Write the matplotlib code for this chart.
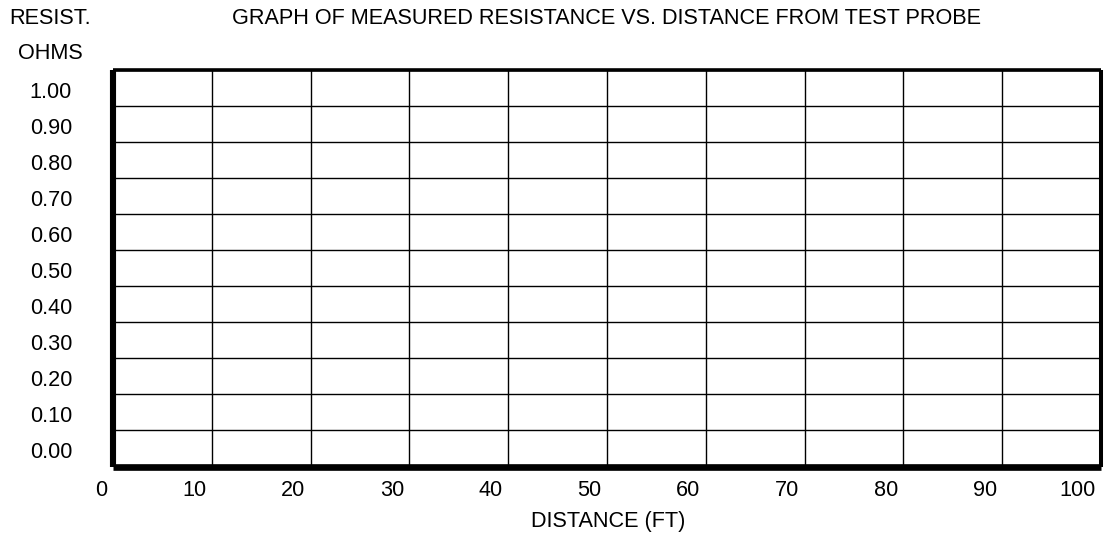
import matplotlib
matplotlib.use("Agg")
import matplotlib.pyplot as plt
import matplotlib.transforms as mtransforms
import numpy as np

plt.rcParams['font.family'] = ['Liberation Sans', 'DejaVu Sans']

title = "GRAPH OF MEASURED RESISTANCE VS. DISTANCE FROM TEST PROBE"
y_title_top = "RESIST."
y_title_unit = "OHMS"
x_label = "DISTANCE (FT)"
x_ticks = [0, 10, 20, 30, 40, 50, 60, 70, 80, 90, 100]
y_ticks = [0.00, 0.10, 0.20, 0.30, 0.40, 0.50, 0.60, 0.70, 0.80, 0.90, 1.00]
y_tick_labels = ["0.00", "0.10", "0.20", "0.30", "0.40", "0.50",
                 "0.60", "0.70", "0.80", "0.90", "1.00"]

FS = 15.6
W, H = 1107, 537
fig = plt.figure(figsize=(W / 100, H / 100), dpi=100)
ax = fig.add_axes([113 / W, (H - 466.5) / H, 988 / W, 396.5 / H])

ystep = y_ticks[1] - y_ticks[0]
ax.set_xlim(x_ticks[0], x_ticks[-1])
ax.set_ylim(y_ticks[0] - ystep / 2, y_ticks[-1] + ystep / 2)

# grid lines
for xv in x_ticks[1:-1]:
    ax.axvline(xv, color='black', lw=1.0, zorder=1)
for yv in y_ticks:
    ax.axhline(yv + ystep / 2, color='black', lw=1.0, zorder=1)

# spines
ax.spines['left'].set_linewidth(4.4)
ax.spines['bottom'].set_linewidth(4.8)
ax.spines['top'].set_linewidth(2.6)
ax.spines['right'].set_linewidth(2.9)
for s in ax.spines.values():
    s.set_color('black')
    s.set_zorder(3)
    s.set_capstyle('butt')

# x ticks: labels right-aligned just left of grid line
ax.set_xticks(x_ticks)
ax.set_xticklabels([str(v) for v in x_ticks], fontsize=FS)
ax.tick_params(axis='x', length=0, pad=10)
off = mtransforms.ScaledTranslation(-5.5 / 100, 0, fig.dpi_scale_trans)
for lab in ax.get_xticklabels():
    lab.set_horizontalalignment('right')
    lab.set_transform(lab.get_transform() + off)

# y ticks: labels in row centres
ax.set_yticks(y_ticks)
ax.set_yticklabels(y_tick_labels, fontsize=FS)
ax.tick_params(axis='y', length=0, pad=29.5)
yoff = mtransforms.ScaledTranslation(0, -2 / 100, fig.dpi_scale_trans)
for lab in ax.get_yticklabels():
    lab.set_transform(lab.get_transform() + yoff)

# texts
fig.text(607 / W, 1 - 18.5 / H, title, ha='center', va='center', fontsize=FS)
fig.text(50.5 / W, 1 - 18 / H, y_title_top, ha='center', va='center', fontsize=FS)
fig.text(50.5 / W, 1 - 53.5 / H, y_title_unit, ha='center', va='center', fontsize=FS)
fig.text(608 / W, 1 - 522 / H, x_label, ha='center', va='center', fontsize=FS)

fig.savefig("out.png", dpi=100, facecolor='white')
